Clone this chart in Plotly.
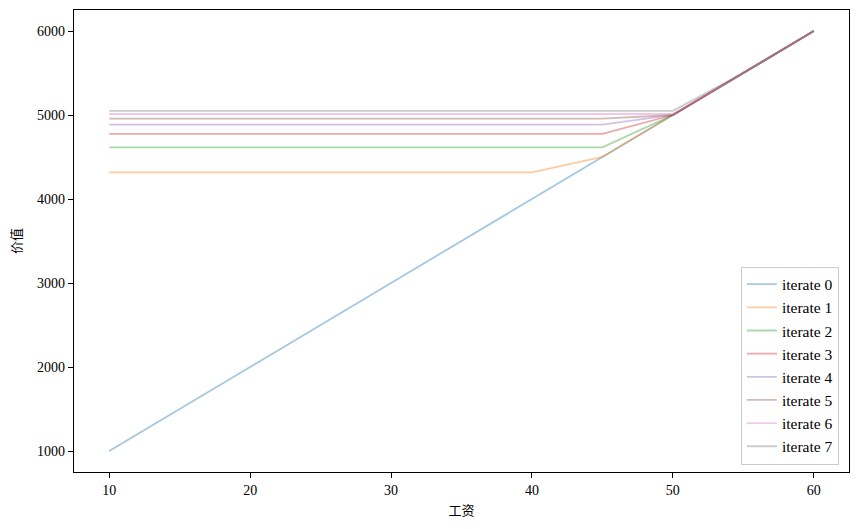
import plotly.graph_objects as go

wages = [10, 15, 20, 25, 30, 35, 40, 45, 50, 55, 60]
iterate_0 = [1000, 1500, 2000, 2500, 3000, 3500, 4000, 4500, 5000, 5500, 6000]
iterate_1 = [4318, 4318, 4318, 4318, 4318, 4318, 4318, 4500, 5000, 5500, 6000]
iterate_2 = [4615, 4615, 4615, 4615, 4615, 4615, 4615, 4615, 5000, 5500, 6000]
iterate_3 = [4776, 4776, 4776, 4776, 4776, 4776, 4776, 4776, 5000, 5500, 6000]
iterate_4 = [4885, 4885, 4885, 4885, 4885, 4885, 4885, 4885, 5000, 5500, 6000]
iterate_5 = [4957, 4957, 4957, 4957, 4957, 4957, 4957, 4957, 5000, 5500, 6000]
iterate_6 = [5012, 5012, 5012, 5012, 5012, 5012, 5012, 5012, 5012, 5500, 6000]
iterate_7 = [5050, 5050, 5050, 5050, 5050, 5050, 5050, 5050, 5050, 5500, 6000]
series = [iterate_0, iterate_1, iterate_2, iterate_3, iterate_4, iterate_5, iterate_6, iterate_7]
names = [f"iterate {i}" for i in range(8)]
colors = ["#1f77b4", "#ff7f0e", "#2ca02c", "#d62728", "#9467bd", "#8c564b", "#e377c2", "#7f7f7f"]

x_ticks = [10, 20, 30, 40, 50, 60]
y_ticks = [1000, 2000, 3000, 4000, 5000, 6000]

fig = go.Figure()
for name, vals, c in zip(names, series, colors):
    fig.add_trace(go.Scatter(x=wages, y=vals, mode="lines", name=name,
                             line=dict(color=c, width=1.8), opacity=0.4))

serif = "Liberation Serif, Noto Sans CJK SC, serif"
axis_common = dict(showline=True, linecolor="black", linewidth=1.2, mirror=True,
                   ticks="outside", ticklen=5, tickwidth=1, tickcolor="black",
                   showgrid=False, zeroline=False,
                   tickfont=dict(family=serif, size=14, color="black"))
fig.update_layout(
    width=858, height=529,
    paper_bgcolor="white", plot_bgcolor="white",
    margin=dict(l=74, r=9, t=10, b=57),
    font=dict(family=serif, size=14, color="black"),
    xaxis=dict(range=[7.5, 62.5], tickvals=x_ticks,
               title=dict(text="工资", font=dict(family="Noto Sans CJK SC", size=13), standoff=8),
               **axis_common),
    yaxis=dict(range=[750, 6250], tickvals=y_ticks,
               title=dict(text="价值", font=dict(family="Noto Sans CJK SC", size=13), standoff=12),
               **axis_common),
    legend=dict(x=0.987, y=0.016, xanchor="right", yanchor="bottom",
                bgcolor="rgba(255,255,255,0.8)", bordercolor="#cccccc", borderwidth=1,
                font=dict(family=serif, size=15.5), tracegroupgap=0, itemwidth=30),
    showlegend=True,
)

fig.write_html("out.html", post_script="document.body.style.margin='0';",
               config={"displayModeBar": False})
